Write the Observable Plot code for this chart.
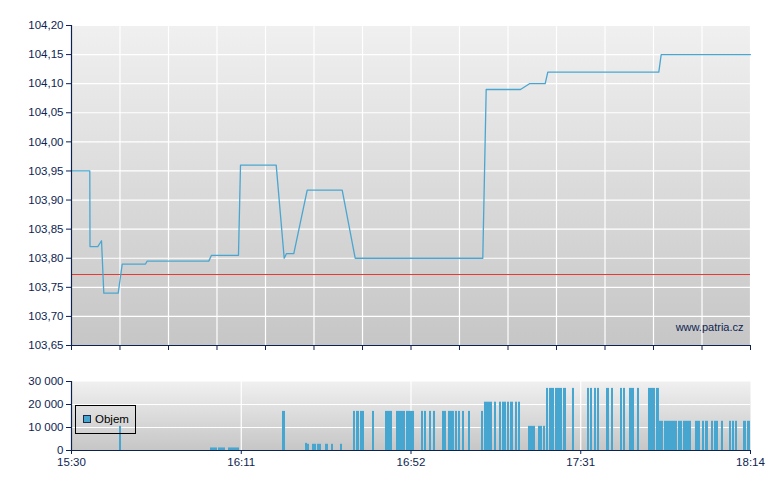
<!DOCTYPE html>
<html>
<head>
<meta charset="utf-8">
<script src="https://cdn.jsdelivr.net/npm/d3@7"></script>
<script src="https://cdn.jsdelivr.net/npm/@observablehq/plot@0.6"></script>
<style>
  html, body { margin: 0; padding: 0; background: #ffffff; }
  #wrap { position: relative; width: 780px; height: 490px; font-family: 'Liberation Sans', Arial, sans-serif; }
  #top, #bottom { position: absolute; left: 0; }
  #top { top: 0; }
  #bottom { top: 360px; }
  #legend { position: absolute; left: 75px; top: 405px; width: 59px; height: 27px; border: 1px solid #000; box-sizing: content-box; }
  #legend .sw { position: absolute; left: 7px; top: 9px; width: 6px; height: 6px; background: #47a6cf; border: 1px solid #1b2c4a; }
  #legend .lb { position: absolute; left: 19px; top: 7px; font-size: 11.5px; line-height: 13px; color: #000; }
</style>
</head>
<body>
<div id="wrap">
  <div id="top"></div>
  <div id="bottom"></div>
  <div id="legend"><div class="sw"></div><div class="lb">Objem</div></div>
</div>
<script>
// ---- data (time in minutes since 15:30) ----
const priceTime  = [0, 4.42, 4.47, 6.35, 7.25, 7.80, 11.28, 12.25, 17.87, 18.28, 33.16, 33.81, 40.33, 40.82, 49.44, 51.37, 51.93, 53.69, 56.93, 65.38, 68.52, 99.34, 100.16, 108.45, 110.62, 114.41, 115.04, 141.85, 142.43, 164];
const priceValue = [103.95, 103.95, 103.82, 103.82, 103.83, 103.74, 103.74, 103.79, 103.79, 103.795, 103.795, 103.805, 103.805, 103.96, 103.96, 103.80, 103.808, 103.808, 103.917, 103.917, 103.80, 103.80, 104.09, 104.09, 104.10, 104.10, 104.12, 104.12, 104.15, 104.15];
const referencePrice = 103.772;

const volStart = [11.59, 33.57, 35.50, 37.92, 50.96, 56.52, 57.00, 58.21, 59.42, 61.35, 62.80, 64.97, 68.11, 68.84, 69.80, 72.70, 75.84, 78.50, 80.91, 84.54, 85.26, 86.47, 87.43, 89.61, 91.05, 92.74, 93.47, 94.44, 95.89, 99.03, 99.75, 102.17, 103.37, 104.10, 105.31, 106.03, 107.24, 107.97, 110.38, 112.80, 114.00, 114.73, 115.45, 116.90, 118.83, 121.00, 124.63, 125.35, 126.32, 127.05, 129.22, 130.43, 132.60, 133.33, 134.77, 136.70, 139.36, 141.29, 142.01, 143.22, 146.61, 147.81, 150.71, 152.40, 153.13, 154.58, 155.30, 156.99, 158.93, 159.65, 160.38, 162.31, 163.28];
const volEnd   = [12.08, 35.26, 37.20, 40.58, 51.69, 57.00, 57.48, 59.18, 60.38, 62.07, 63.28, 65.45, 68.59, 69.56, 70.77, 73.18, 77.53, 80.67, 82.85, 85.02, 85.74, 86.95, 87.92, 90.57, 92.50, 93.23, 93.95, 94.92, 96.37, 99.51, 101.68, 102.65, 103.86, 105.07, 105.79, 106.76, 107.72, 108.45, 112.07, 113.76, 114.49, 115.21, 116.66, 118.59, 119.56, 121.49, 125.11, 125.84, 126.80, 127.53, 129.94, 130.91, 133.08, 133.81, 135.98, 137.19, 141.05, 142.01, 142.98, 146.36, 147.57, 149.75, 151.92, 152.89, 153.85, 155.06, 156.27, 157.48, 159.41, 160.14, 160.86, 163.03, 164.00];
const volValue = [10500, 1100, 1100, 1100, 17000, 3100, 2700, 2700, 2700, 2700, 2700, 2700, 17000, 17000, 17000, 17000, 17000, 17000, 17000, 17000, 17000, 17000, 17000, 17000, 17000, 17000, 17000, 17000, 17000, 17000, 21000, 21000, 21000, 21000, 21000, 21000, 21000, 21000, 10500, 10500, 10500, 27000, 27000, 27000, 27000, 27000, 27000, 27000, 27000, 27000, 27000, 27000, 27000, 27000, 27000, 27000, 27000, 27000, 12700, 12700, 12700, 12700, 12700, 12700, 12700, 12700, 12700, 12700, 12700, 12700, 12700, 12700, 12700];

const priceTicks = [103.65, 103.70, 103.75, 103.80, 103.85, 103.90, 103.95, 104.00, 104.05, 104.10, 104.15, 104.20];
const topGridMinutes = [0, 11.71, 23.43, 35.14, 46.86, 58.57, 70.29, 82.0, 93.71, 105.43, 117.14, 128.86, 140.57, 152.29, 164];
const timeTickMinutes = [0, 41, 82, 123, 164];
const timeTickLabels = ["15:30", "16:11", "16:52", "17:31", "18:14"];
const volTicks = [0, 10000, 20000, 30000];
const watermark = "www.patria.cz";

// ---- build tables ----
const price = priceTime.map((t, i) => ({t, p: priceValue[i]}));
const vol = volStart.map((s, i) => ({s, e: volEnd[i], v: volValue[i]}));

const NAVY = "#0c2250";
const TEXT = "#0e2452";
const LINE = "#4aa6d0";
const BAR = "#47a6cf";
const style = {fontFamily: "'Liberation Sans', Arial, sans-serif", fontSize: "11.5px", color: NAVY, background: "transparent", overflow: "visible"};

function addGradient(svg, id) {
  d3.select(svg).insert("defs", ":first-child").html(
    `<linearGradient id="${id}" x1="0" y1="0" x2="0" y2="1">
       <stop offset="0" stop-color="#f0f0f0"/>
       <stop offset="1" stop-color="#c6c6c6"/>
     </linearGradient>`);
}

const topChart = Plot.plot({
  width: 780, height: 360,
  marginLeft: 71, marginRight: 30, marginTop: 25, marginBottom: 15,
  style,
  x: {domain: [0, 164]},
  y: {domain: [103.65, 104.20]},
  marks: [
    Plot.frame({fill: "url(#bgTop)", stroke: "none"}),
    Plot.gridX(topGridMinutes, {stroke: "#ffffff", strokeOpacity: 1, strokeWidth: 1.2}),
    Plot.gridY(priceTicks, {stroke: "#ffffff", strokeOpacity: 1, strokeWidth: 1.2}),
    Plot.ruleY([referencePrice], {stroke: "#e03a33", strokeWidth: 1}),
    Plot.line(price, {x: "t", y: "p", stroke: LINE, strokeWidth: 1.3}),
    Plot.axisY(priceTicks, {tickSize: 5, tickPadding: 3, label: null, fill: TEXT, stroke: NAVY,
      tickFormat: d => d.toFixed(2).replace(".", ",")}),
    Plot.axisX(topGridMinutes, {tickSize: 5, label: null, stroke: NAVY, tickFormat: () => ""}),
    Plot.ruleX([0], {stroke: NAVY, strokeWidth: 1.2}),
    Plot.ruleY([103.65], {stroke: NAVY, strokeWidth: 1.2}),
    Plot.text([watermark], {frameAnchor: "bottom-right", dx: -7, dy: -15, fill: TEXT, fontSize: 11})
  ]
});
addGradient(topChart, "bgTop");
document.getElementById("top").appendChild(topChart);

const bottomChart = Plot.plot({
  width: 780, height: 130,
  marginLeft: 71, marginRight: 30, marginTop: 21, marginBottom: 40,
  style,
  x: {domain: [0, 164]},
  y: {domain: [0, 30000]},
  marks: [
    Plot.frame({fill: "url(#bgBot)", stroke: "none"}),
    Plot.gridX(timeTickMinutes.slice(1, -1), {stroke: "#ffffff", strokeOpacity: 1, strokeWidth: 1.2}),
    Plot.gridY([10000, 20000], {stroke: "#ffffff", strokeOpacity: 1, strokeWidth: 1.2}),
    Plot.rect(vol, {x1: "s", x2: "e", y1: 0, y2: "v", fill: BAR}),
    Plot.axisY(volTicks, {tickSize: 5, tickPadding: 3, label: null, fill: TEXT, stroke: NAVY,
      tickFormat: d => d3.format(",")(d).replace(/,/g, " ")}),
    Plot.axisX(timeTickMinutes, {tickSize: 4, tickPadding: 3, label: null, fill: TEXT, stroke: NAVY, fontSize: 11.5,
      tickFormat: (d, i) => timeTickLabels[timeTickMinutes.indexOf(d)]}),
    Plot.ruleX([0], {stroke: NAVY, strokeWidth: 1.2}),
    Plot.ruleY([0], {stroke: NAVY, strokeWidth: 1.2})
  ]
});
addGradient(bottomChart, "bgBot");
document.getElementById("bottom").appendChild(bottomChart);
</script>
</body>
</html>
